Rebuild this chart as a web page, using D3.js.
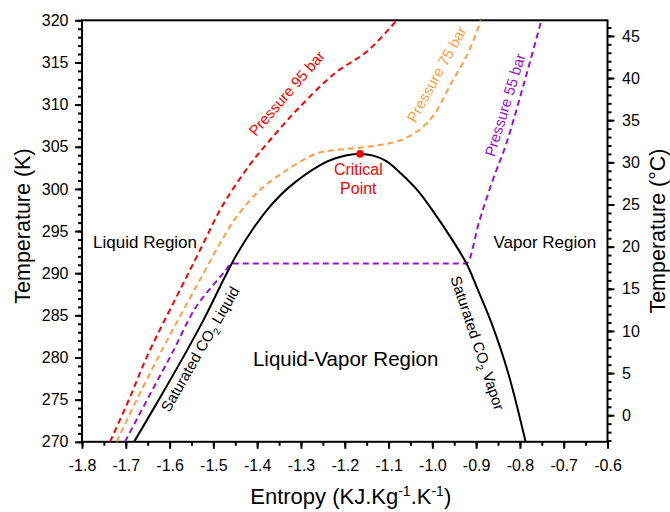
<!DOCTYPE html>
<html>
<head>
<meta charset="utf-8">
<script src="https://cdn.jsdelivr.net/npm/d3@7"></script>
<style>
  body { margin: 0; background: #fff; }
  text { font-family: "Liberation Sans", Arial, sans-serif; }
</style>
</head>
<body>
<div id="chart"></div>
<script>
// saturation dome (entropy kJ/kg.K, temperature K)
const domeS = [-1.681, -1.62, -1.565, -1.52, -1.481, -1.458, -1.447, -1.409, -1.371, -1.325, -1.257, -1.223, -1.195, -1.165, -1.135, -1.105, -1.071, -1.03, -0.995, -0.96, -0.922, -0.895, -0.865, -0.827, -0.787]
const domeT = [270, 275.4, 280.4, 284.7, 288.8, 291.15, 292.2, 295.3, 297.9, 300.3, 302.8, 303.6, 304.0, 304.15, 303.95, 303.3, 301.8, 299.6, 297.1, 294.4, 291.15, 287.9, 284.1, 278.2, 270]

// isobars
const p95S = [-1.736, -1.692, -1.649, -1.565, -1.523, -1.485, -1.447, -1.409, -1.371, -1.310, -1.223, -1.147, -1.078]
const p95T = [270, 275.1, 280.4, 289.17, 293.52, 297.47, 300.64, 303.4, 305.77, 309.33, 313.7, 316.4, 320.2]

const p75S = [-1.721, -1.672, -1.622, -1.575, -1.527, -1.485, -1.447, -1.394, -1.333, -1.265, -1.223, -1.147, -1.071, -1.025, -0.995, -0.957, -0.919, -0.889]
const p75T = [270, 275.3, 280.43, 285.0, 289.56, 293.52, 296.68, 299.84, 302.21, 304.19, 304.59, 305.0, 305.8, 307.2, 308.9, 312.5, 316.05, 320]

const p55S = [-1.702, -1.649, -1.595, -1.542, -1.497, -1.474, -1.458, -1.2, -0.922, -0.892, -0.862, -0.831, -0.793, -0.751]
const p55T = [270, 275.2, 280.43, 285.8, 288.8, 290.2, 291.15, 291.15, 291.15, 296.3, 301.03, 305.38, 312.1, 320]

const critical = [-1.165, 304.15]

const xTicks = [-1.8, -1.7, -1.6, -1.5, -1.4, -1.3, -1.2, -1.1, -1.0, -0.9, -0.8, -0.7, -0.6]
const yTicks = [270, 275, 280, 285, 290, 295, 300, 305, 310, 315, 320]
const cTicks = [0, 5, 10, 15, 20, 25, 30, 35, 40, 45]

const W = 670, H = 512
const mLeft = 82, mRight = 607.5, mTop = 20.3, mBottom = 441.8

const svg = d3.select('#chart')
  .append('svg')
  .attr('width', W)
  .attr('height', H)

const x = d3.scaleLinear().domain([-1.8, -0.6]).range([mLeft, mRight])
const y = d3.scaleLinear().domain([270, 320]).range([mBottom, mTop])
const yC = d3.scaleLinear().domain([270 - 273.15, 320 - 273.15]).range([mBottom, mTop])

svg.append('clipPath')
  .attr('id', 'plotclip')
  .append('rect')
  .attr('x', mLeft)
  .attr('y', mTop)
  .attr('width', mRight - mLeft)
  .attr('height', mBottom - mTop)

const fmt = d => d.toFixed(1)

// minor ticks first, then major ticks with labels
const styleAxis = g => {
  g.select('.domain').remove()
  g.selectAll('line').attr('stroke', '#000').attr('stroke-width', 2)
  g.selectAll('text').attr('fill', '#000').style('font-size', '16px')
}

svg.append('g')
  .attr('transform', `translate(${mLeft},0)`)
  .call(d3.axisLeft(y).tickValues(d3.range(270, 321, 1)).tickSize(4).tickFormat(''))
  .call(styleAxis)
svg.append('g')
  .attr('transform', `translate(${mLeft},0)`)
  .call(d3.axisLeft(y).tickValues(yTicks).tickSize(7).tickPadding(6.5))
  .call(styleAxis)

svg.append('g')
  .attr('transform', `translate(0,${mBottom})`)
  .call(d3.axisBottom(x).tickValues(d3.range(-1.8, -0.59, 0.05)).tickSize(4).tickFormat(''))
  .call(styleAxis)
svg.append('g')
  .attr('transform', `translate(0,${mBottom})`)
  .call(d3.axisBottom(x).tickValues(xTicks).tickSize(7).tickPadding(11).tickFormat(fmt))
  .call(styleAxis)

svg.append('g')
  .attr('transform', `translate(${mRight},0)`)
  .call(d3.axisRight(yC).tickValues(d3.range(-3, 47, 1)).tickSize(4).tickFormat(''))
  .call(styleAxis)
svg.append('g')
  .attr('transform', `translate(${mRight},0)`)
  .call(d3.axisRight(yC).tickValues(cTicks).tickSize(7).tickPadding(7.5))
  .call(styleAxis)

// frame
svg.append('rect')
  .attr('x', mLeft)
  .attr('y', mTop)
  .attr('width', mRight - mLeft)
  .attr('height', mBottom - mTop)
  .attr('fill', 'none')
  .attr('stroke', '#000')
  .attr('stroke-width', 2)

const plot = svg.append('g').attr('clip-path', 'url(#plotclip)')

const smooth = d3.curveCatmullRom.alpha(0.5)

const series = [
  { s: p95S, t: p95T, color: '#ff0000', dash: '6,4', curve: smooth },
  { s: p75S, t: p75T, color: '#ff9f40', dash: '6,4', curve: smooth },
  { s: p55S, t: p55T, color: '#9c0fd6', dash: '6,4', curve: d3.curveMonotoneX },
  { s: domeS, t: domeT, color: '#000', dash: null, curve: smooth }
]

plot.selectAll('path.curve')
  .data(series)
  .enter()
  .append('path')
  .attr('class', 'curve')
  .attr('d', d => d3.line()
    .x(p => x(p[0]))
    .y(p => y(p[1]))
    .curve(d.curve)(d.s.map((v, i) => [v, d.t[i]])))
  .attr('fill', 'none')
  .attr('stroke', d => d.color)
  .attr('stroke-width', 2)
  .attr('stroke-dasharray', d => d.dash)

plot.append('circle')
  .attr('cx', x(critical[0]))
  .attr('cy', y(critical[1]))
  .attr('r', 3.8)
  .attr('fill', '#ff0000')

// annotations, placed in data units
const labels = [
  { text: 'Liquid Region', s: -1.656, t: 292.95, size: 17, color: '#000' },
  { text: 'Vapor Region', s: -0.743, t: 292.95, size: 17, color: '#000' },
  { text: 'Liquid-Vapor Region', s: -1.198, t: 279.0, size: 20.5, color: '#000' },
  { text: 'Critical', s: -1.169, t: 301.65, size: 16, color: '#ff0000' },
  { text: 'Point', s: -1.169, t: 299.45, size: 16, color: '#ff0000' }
]

svg.selectAll('text.note')
  .data(labels)
  .enter()
  .append('text')
  .attr('class', 'note')
  .attr('x', d => x(d.s))
  .attr('y', d => y(d.t))
  .attr('text-anchor', 'middle')
  .attr('fill', d => d.color)
  .style('font-size', d => d.size + 'px')
  .text(d => d.text)

const rotated = [
  { parts: [['Pressure 95 bar']], s: -1.3325, t: 311.34, angle: -49, color: '#ff0000' },
  { parts: [['Pressure 75 bar']], s: -0.990, t: 313.6, angle: -61, color: '#ff9f40' },
  { parts: [['Pressure 55 bar']], s: -0.834, t: 309.95, angle: -73, color: '#9c0fd6' },
  { parts: [['Saturated CO'], ['2', 'sub'], [' Liquid']], s: -1.5305, t: 281.0, angle: -60, color: '#000' },
  { parts: [['Saturated CO'], ['2', 'sub'], [' Vapor']], s: -0.8968, t: 281.73, angle: 71.5, color: '#000' }
]

rotated.forEach(r => {
  const px = x(r.s), py = y(r.t)
  const txt = svg.append('text')
    .attr('transform', `translate(${px},${py}) rotate(${r.angle})`)
    .attr('text-anchor', 'middle')
    .attr('dy', '0.35em')
    .attr('fill', r.color)
    .style('font-size', '15px')
  r.parts.forEach((p, i) => {
    const ts = txt.append('tspan').text(p[0])
    if (p[1] === 'sub') ts.style('font-size', '10px').attr('dy', 4)
    else if (i > 0) ts.attr('dy', -4)
  })
})

// axis titles
svg.append('text')
  .attr('transform', `translate(29.5,${(mTop + mBottom) / 2 - 5}) rotate(-90)`)
  .attr('text-anchor', 'middle')
  .style('font-size', '21.5px')
  .text('Temperature (K)')

svg.append('text')
  .attr('transform', `translate(665,${(mTop + mBottom) / 2}) rotate(-90)`)
  .attr('text-anchor', 'middle')
  .style('font-size', '21.5px')
  .text('Temperature (°C)')

const xt = svg.append('text')
  .attr('x', (mLeft + mRight) / 2 + 6)
  .attr('y', 504)
  .attr('text-anchor', 'middle')
  .style('font-size', '22px')
xt.append('tspan').text('Entropy (KJ.Kg')
xt.append('tspan').text('-1').style('font-size', '14px').attr('dy', -8)
xt.append('tspan').text('.K').attr('dy', 8)
xt.append('tspan').text('-1').style('font-size', '14px').attr('dy', -8)
xt.append('tspan').text(')').attr('dy', 8)
</script>
</body>
</html>
